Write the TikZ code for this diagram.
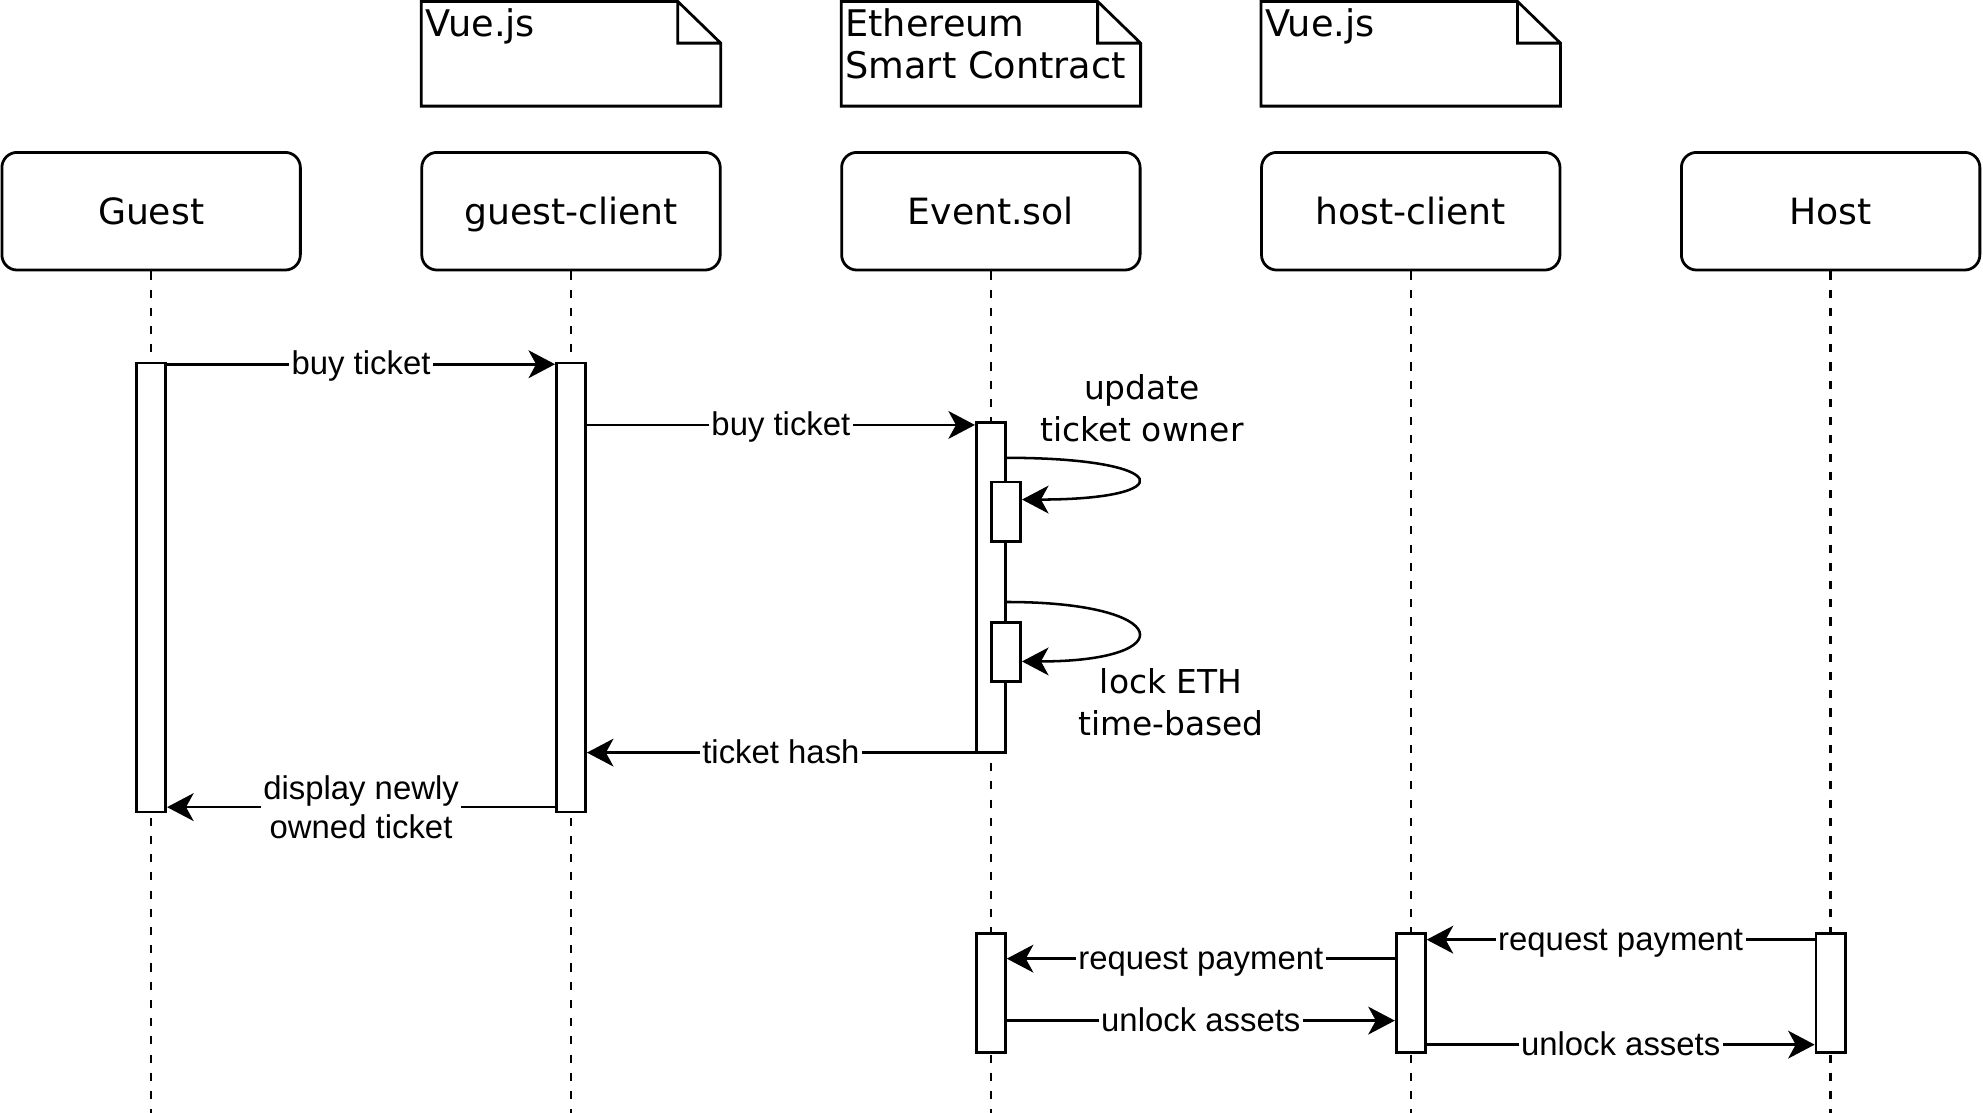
\documentclass[tikz,border=0pt]{standalone}
\usepackage{fontspec}
\setmainfont{DejaVu Sans}
\newfontfamily\msgfont{Liberation Sans}
\usetikzlibrary{arrows.meta}
\usetikzlibrary{positioning}
\tikzset{
  actor/.style={draw, line width=1.1pt, rounded corners=6pt, minimum width=118pt, minimum height=46.5pt, text height=10.4pt, text depth=0pt, font=\fontsize{14.3}{17}\selectfont},
  notebox/.style={minimum width=118pt, minimum height=41pt, inner sep=0pt},
  notetext/.style={anchor=north west, align=left, inner xsep=1.5pt, inner ysep=2.8pt, font=\fontsize{14.5}{16.5}\selectfont},
  lifeline/.style={line width=0.9pt, dash pattern=on 3.2pt off 4pt},
  bar/.style={draw, fill=white, line width=1.1pt, minimum width=11.5pt, inner sep=0pt, anchor=north},
  msg/.style={-{Stealth[length=10.5pt,width=11pt,inset=3pt]}, line width=1pt},
  lbltwo/.style={fill=white, inner sep=1pt, align=center, font=\msgfont\fontsize{13}{15.5}\selectfont},
  lbl/.style={lbltwo, text height=10.4pt, text depth=2pt},
  selfnote/.style={align=center, font=\fontsize{13}{16.5}\selectfont}
}
\begin{document}
\begin{tikzpicture}[line join=miter,x=0.5pt,y=-0.5pt]
\useasboundingbox (0,0) rectangle (1568,880);
\coordinate (bottom) at (0,880);
% participants
\node[actor] (guest) at (119.5,167) {Guest};
\node[actor] (gclient) at (451.5,167) {guest-client};
\node[actor] (event) at (783.5,167) {Event.sol};
\node[actor] (hclient) at (1115.5,167) {host-client};
\node[actor] (host) at (1447.5,167) {Host};
\foreach \a in {guest,gclient,event,hclient,host}
\draw[lifeline] (\a.south) -- (\a.south |- bottom);
% notes
\node[notebox] (vuenote) at (451.5,42.5) {};
\node[notebox] (ethnote) at (783.5,42.5) {};
\node[notebox] (hostnote) at (1115.5,42.5) {};
\foreach \n in {vuenote,ethnote,hostnote}
\draw[line width=1.1pt] (\n.south west) -- (\n.north west) -- ([xshift=-17pt]\n.north east) -- ([yshift=-16.5pt]\n.north east) -- (\n.south east) -- cycle
  ([xshift=-17pt]\n.north east) |- ([yshift=-16.5pt]\n.north east);
\node[notetext] (vuetext) at (vuenote.north west) {Vue.js};
\node[notetext] (ethtext) at (ethnote.north west) {Ethereum\\Smart Contract};
\node[notetext] (hosttext) at (hostnote.north west) {Vue.js};
% activations
\node[bar, minimum height=177.5pt] (gbar) at (119.5,286) {};
\node[bar, minimum height=177.5pt] (gcbar) at (451.5,286) {};
\node[bar, minimum height=130.5pt] (ebar) at (783.5,333) {};
\node[bar, minimum height=23.5pt] (ownbar) at (795.5,380) {};
\node[bar, minimum height=23.5pt] (lockbar) at (795.5,491) {};
\node[bar, minimum height=47pt] (paybar) at (783.5,737) {};
\node[bar, minimum height=47pt] (hcbar) at (1115.5,737) {};
\node[bar, minimum height=47pt] (hbar) at (1447.5,737) {};
% messages
\draw[msg] ([yshift=-1pt]gbar.north east) -- node[lbl]{buy ticket} ([yshift=-1pt]gbar.north east -| gcbar.west);
\draw[msg] ([yshift=-1.5pt]ebar.north west -| gcbar.east) -- node[lbl]{buy ticket} ([yshift=-1.5pt]ebar.north west);
\draw[msg] ([yshift=-14.5pt]ebar.north east) .. controls +(132,0) and +(127,0) .. ([yshift=-7.5pt]ownbar.north east);
\node[selfnote] (ownlbl) at (903,323) {update\\ticket owner};
\draw[msg] ([yshift=-71.5pt]ebar.north east) .. controls +(132,0) and +(127,0) .. ([yshift=-16pt]lockbar.north east);
\node[selfnote] (locklbl) at (926,555.5) {lock ETH\\time-based};
\draw[msg] ([yshift=0.55pt]ebar.south east) -- ([yshift=0.55pt]ebar.south west) -- node[lbl]{ticket hash} ([yshift=0.55pt]ebar.south west -| gcbar.east);
\draw[msg] ([yshift=2.5pt]gcbar.south west) -- node[lbltwo]{display newly\\owned ticket} ([yshift=2.5pt]gcbar.south west -| gbar.east);
\draw[msg] ([yshift=-3pt]hbar.north west) -- node[lbl]{request payment} ([yshift=-3pt]hbar.north west -| hcbar.east);
\draw[msg] ([yshift=-10.5pt]hcbar.north west) -- node[lbl]{request payment} ([yshift=-10.5pt]hcbar.north west -| paybar.east);
\draw[msg] ([yshift=-35pt]paybar.north east) -- node[lbl]{unlock assets} ([yshift=-35pt]paybar.north east -| hcbar.west);
\draw[msg] ([yshift=-44.5pt]hcbar.north east) -- node[lbl]{unlock assets} ([yshift=-44.5pt]hcbar.north east -| hbar.west);
\end{tikzpicture}
\end{document}
